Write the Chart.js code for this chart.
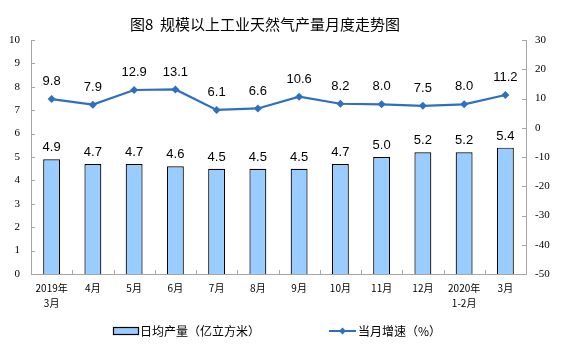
<!DOCTYPE html>
<html>
<head>
<meta charset="utf-8">
<script src="https://cdn.jsdelivr.net/npm/chart.js@4/dist/chart.umd.min.js"></script>
<style>
html,body{margin:0;padding:0;background:#fff;}
#wrap{width:563px;height:362px;position:relative;}
</style>
</head>
<body>
<div id="wrap"><canvas id="c" width="563" height="362"></canvas></div>
<script>
const titleText = '图8  规模以上工业天然气产量月度走势图';
const categories = [['2019年','3月'],'4月','5月','6月','7月','8月','9月','10月','11月','12月',['2020年','1-2月'],'3月'];
const dailyOutput = [4.9,4.7,4.7,4.6,4.5,4.5,4.5,4.7,5.0,5.2,5.2,5.4];
const growthRate = [9.8,7.9,12.9,13.1,6.1,6.6,10.6,8.2,8.0,7.5,8.0,11.2];
const barLabel = '日均产量（亿立方米）';
const lineLabel = '当月增速（%）';

const lineColor = '#2E6FC0';
const barColor = '#99CCFF';
const axisColor = '#A6A6A6';

const cjk = '"Noto Sans CJK SC", "Liberation Sans", sans-serif';

const decor = {
  id: 'decor',
  afterDraw(chart) {
    const ctx = chart.ctx;
    const area = chart.chartArea;
    const y1 = chart.scales.y;
    const y2 = chart.scales.y2;
    const x = chart.scales.x;
    ctx.save();
    // inward tick marks
    ctx.strokeStyle = axisColor;
    ctx.lineWidth = 1;
    ctx.beginPath();
    y1.ticks.forEach(t => {
      const py = Math.round(y1.getPixelForValue(t.value)) + 0.5;
      ctx.moveTo(area.left, py); ctx.lineTo(area.left + 4, py);
    });
    y2.ticks.forEach(t => {
      const py = Math.round(y2.getPixelForValue(t.value)) + 0.5;
      ctx.moveTo(area.right, py); ctx.lineTo(area.right - 4, py);
    });
    for (let i = 1; i < categories.length; i++) {
      const px = Math.round((x.getPixelForValue(i - 1) + x.getPixelForValue(i)) / 2) + 0.5;
      ctx.moveTo(px, area.bottom); ctx.lineTo(px, area.bottom - 4);
    }
    ctx.stroke();

    // data labels
    ctx.fillStyle = '#000';
    ctx.font = '13px "Liberation Sans", Arial, sans-serif';
    ctx.textAlign = 'center';
    ctx.textBaseline = 'bottom';
    chart.getDatasetMeta(0).data.forEach((el, i) => {
      ctx.fillText(dailyOutput[i].toFixed(1), el.x, el.y - 5);
    });
    chart.getDatasetMeta(1).data.forEach((el, i) => {
      ctx.fillText(growthRate[i].toFixed(1), el.x, el.y - 11);
    });

    // title
    ctx.font = '15px ' + cjk;
    ctx.textBaseline = 'middle';
    ctx.fillText(titleText, 265, 24);

    // legend
    const ly = 331;
    ctx.fillStyle = barColor;
    ctx.fillRect(113.5, ly - 3.5, 25, 7);
    ctx.strokeStyle = '#000';
    ctx.lineWidth = 1.2;
    ctx.strokeRect(113.5, ly - 3.5, 25, 7);
    ctx.fillStyle = '#000';
    ctx.font = '12px ' + cjk;
    ctx.textAlign = 'left';
    ctx.fillText(barLabel, 140, ly);

    ctx.strokeStyle = lineColor;
    ctx.lineWidth = 2;
    ctx.beginPath();
    ctx.moveTo(329, ly); ctx.lineTo(356, ly);
    ctx.stroke();
    ctx.fillStyle = lineColor;
    ctx.beginPath();
    ctx.moveTo(342.5, ly - 3.5); ctx.lineTo(346, ly); ctx.lineTo(342.5, ly + 3.5); ctx.lineTo(339, ly);
    ctx.closePath(); ctx.fill();
    ctx.fillStyle = '#000';
    ctx.fillText(lineLabel, 358, ly);
    ctx.restore();
  }
};

new Chart(document.getElementById('c'), {
  data: {
    labels: categories,
    datasets: [
      {
        type: 'bar',
        label: barLabel,
        data: dailyOutput,
        yAxisID: 'y',
        backgroundColor: barColor,
        borderColor: '#000',
        borderWidth: 1.2,
        borderSkipped: 'bottom',
        barPercentage: 0.82,
        categoryPercentage: 0.5,
        order: 2
      },
      {
        type: 'line',
        label: lineLabel,
        data: growthRate,
        yAxisID: 'y2',
        borderColor: lineColor,
        backgroundColor: lineColor,
        borderWidth: 2.2,
        pointStyle: 'rectRot',
        pointRadius: 4,
        pointBorderWidth: 0,
        tension: 0,
        order: 1
      }
    ]
  },
  plugins: [decor],
  options: {
    responsive: false,
    animation: false,
    devicePixelRatio: 1,
    layout: { padding: { top: 40, left: 0, right: 0, bottom: 0 } },
    plugins: { legend: { display: false }, title: { display: false }, tooltip: { enabled: false } },
    scales: {
      x: {
        offset: true,
        grid: { display: false, drawTicks: false },
        border: { display: true, color: axisColor, width: 1 },
        ticks: { color: '#000', font: { family: cjk, size: 10, lineHeight: 1.45 }, padding: 7, maxRotation: 0, autoSkip: false },
        afterFit(s) { s.height = 88; }
      },
      y: {
        position: 'left',
        min: 0, max: 10,
        grid: { display: false, drawTicks: false },
        border: { display: true, color: axisColor, width: 1 },
        ticks: { stepSize: 1, color: '#000', font: { family: '"Liberation Serif", serif', size: 11 }, padding: 11 },
        afterFit(s) { s.width = 31; }
      },
      y2: {
        position: 'right',
        min: -50, max: 30,
        grid: { display: false, drawTicks: false },
        border: { display: true, color: axisColor, width: 1 },
        ticks: { stepSize: 10, color: '#000', font: { family: '"Liberation Serif", serif', size: 11 }, padding: 9 },
        afterFit(s) { s.width = 37; }
      }
    }
  }
});
</script>
</body>
</html>
